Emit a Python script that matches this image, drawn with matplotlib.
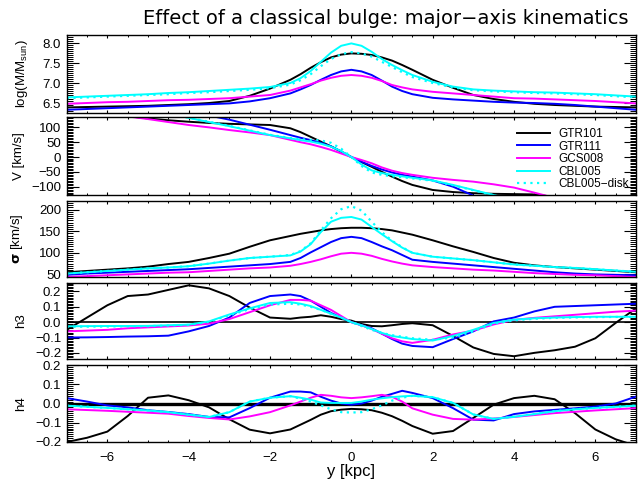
import numpy as np
import matplotlib
matplotlib.use('Agg')
import matplotlib.pyplot as plt
from matplotlib.ticker import MultipleLocator, FuncFormatter

plt.rcParams['font.family'] = ['Liberation Sans', 'DejaVu Sans']
plt.rcParams['mathtext.fontset'] = 'custom'
plt.rcParams['mathtext.rm'] = 'Liberation Sans'
plt.rcParams['mathtext.bf'] = 'DejaVu Sans:bold'
plt.rcParams['axes.linewidth'] = 1.0

# radius along the major axis [kpc]
y_kpc = [-7, -6.5, -6, -5.5, -5, -4.5, -4, -3.5, -3, -2.5, -2, -1.5,
         -1.25, -1, -0.75, -0.5, -0.25, 0, 0.25, 0.5, 0.75, 1, 1.25,
         1.5, 2, 2.5, 3, 3.5, 4, 4.5, 5, 5.5, 6, 6.5, 7]

models = ['GTR101', 'GTR111', 'GCS008', 'CBL005', 'CBL005\u2212disk']
colors = ['black', '#0000ff', '#ff00ff', '#00ffff', '#00ffff']
styles = ['-', '-', '-', '-', (0, (1, 2))]

# log surface mass
logm = [
    [6.39, 6.40, 6.41, 6.42, 6.43, 6.45, 6.47, 6.50, 6.55, 6.68, 6.86, 7.08,
     7.22, 7.38, 7.52, 7.64, 7.71, 7.74, 7.73, 7.70, 7.64, 7.56, 7.45,
     7.33, 7.08, 6.88, 6.70, 6.60, 6.53, 6.48, 6.45, 6.43, 6.41, 6.40, 6.39],
    [6.33, 6.35, 6.37, 6.39, 6.41, 6.43, 6.45, 6.47, 6.49, 6.54, 6.62, 6.74,
     6.84, 6.95, 7.08, 7.20, 7.29, 7.33, 7.29, 7.20, 7.06, 6.91, 6.80,
     6.72, 6.63, 6.59, 6.56, 6.53, 6.51, 6.50, 6.48, 6.45, 6.41, 6.37, 6.33],
    [6.48, 6.50, 6.52, 6.53, 6.55, 6.57, 6.58, 6.60, 6.62, 6.66, 6.70, 6.81,
     6.89, 6.97, 7.06, 7.13, 7.18, 7.20, 7.18, 7.13, 7.05, 6.95, 6.89,
     6.84, 6.78, 6.74, 6.70, 6.66, 6.62, 6.61, 6.59, 6.57, 6.55, 6.52, 6.49],
    [6.64, 6.66, 6.68, 6.70, 6.72, 6.75, 6.77, 6.80, 6.83, 6.86, 6.90, 7.00,
     7.12, 7.30, 7.53, 7.76, 7.93, 7.99, 7.93, 7.78, 7.60, 7.45, 7.32,
     7.20, 7.03, 6.91, 6.84, 6.81, 6.79, 6.77, 6.76, 6.74, 6.72, 6.69, 6.66],
    [6.62, 6.64, 6.66, 6.68, 6.70, 6.72, 6.75, 6.77, 6.80, 6.83, 6.87, 6.96,
     7.07, 7.22, 7.42, 7.60, 7.72, 7.77, 7.74, 7.66, 7.53, 7.40, 7.27,
     7.15, 7.00, 6.89, 6.82, 6.79, 6.77, 6.75, 6.74, 6.72, 6.70, 6.67, 6.64],
]

# line-of-sight velocity [km/s]
vel = [
    [160, 155, 148, 138, 130, 124, 119, 115, 112, 110, 108, 97,
     84, 68, 52, 36, 18, 0, -17, -33, -50, -66, -81,
     -94, -111, -118, -122, -124, -125, -126, -135, -150, -150, -150, -150],
    [200, 190, 180, 170, 160, 150, 145, 140, 126, 109, 92, 74,
     65, 57, 48, 36, 19, 0, -16, -30, -42, -52, -60,
     -66, -79, -100, -130, -150, -160, -170, -180, -190, -200, -200, -200],
    [165, 157, 149, 137, 128, 118, 108, 100, 91, 83, 74, 58,
     50, 43, 34, 24, 12, 0, -10, -21, -35, -46, -54,
     -60, -70, -77, -83, -92, -103, -120, -138, -150, -160, -170, -180],
    [200, 190, 180, 170, 160, 147, 132, 118, 104, 89, 74, 63,
     57, 52, 45, 35, 20, 0, -25, -45, -54, -60, -65,
     -70, -79, -94, -111, -128, -145, -160, -170, -180, -190, -200, -200],
    [200, 190, 180, 170, 160, 147, 133, 119, 105, 90, 75, 64,
     60, 58, 56, 48, 28, 0, -30, -52, -60, -65, -68,
     -72, -80, -95, -112, -129, -146, -160, -170, -180, -190, -200, -200],
]

# velocity dispersion [km/s]
sigma = [
    [55, 58, 61, 64, 68, 74, 79, 88, 98, 114, 129, 139,
     144, 148, 152, 155, 157, 158, 158, 157, 155, 152, 147,
     142, 129, 115, 102, 88, 77, 71, 67, 64, 61, 58, 55],
    [49, 52, 54, 56, 58, 60, 62, 65, 68, 71, 74, 79,
     88, 101, 113, 125, 134, 137, 134, 125, 115, 106, 95,
     84, 79, 75, 71, 67, 63, 59, 55, 52, 50, 49, 48],
    [44, 46, 48, 50, 52, 54, 55, 58, 61, 64, 66, 70,
     74, 79, 85, 92, 98, 100, 98, 93, 86, 80, 75,
     71, 67, 64, 61, 59, 56, 53, 51, 49, 48, 46, 44],
    [52, 55, 58, 61, 64, 66, 69, 75, 82, 88, 91, 94,
     103, 120, 148, 172, 181, 183, 177, 160, 143, 127, 112,
     100, 91, 87, 83, 78, 73, 70, 67, 65, 62, 59, 56],
    [52, 55, 58, 61, 64, 66, 69, 75, 82, 88, 91, 95,
     104, 122, 152, 180, 201, 208, 198, 172, 148, 128, 113,
     100, 91, 87, 83, 78, 73, 70, 67, 65, 62, 59, 56],
]

h3 = [
    [-0.05, 0.03, 0.11, 0.17, 0.18, 0.21, 0.24, 0.22, 0.17, 0.095, 0.03, 0.022,
     0.03, 0.035, 0.045, 0.035, 0.02, 0.01, -0.012, -0.025, -0.027, -0.02, -0.012,
     -0.007, -0.02, -0.09, -0.165, -0.207, -0.222, -0.20, -0.183, -0.16, -0.105, -0.005, 0.09],
    [-0.10, -0.099, -0.097, -0.094, -0.092, -0.088, -0.06, -0.025, 0.03, 0.125, 0.17, 0.18,
     0.17, 0.14, 0.10, 0.06, 0.03, 0.0, -0.02, -0.04, -0.075, -0.11, -0.14,
     -0.155, -0.163, -0.11, -0.06, 0.005, 0.03, 0.07, 0.10, 0.105, 0.11, 0.115, 0.12],
    [-0.06, -0.055, -0.05, -0.04, -0.034, -0.028, -0.022, -0.01, 0.02, 0.065, 0.11, 0.145,
     0.145, 0.14, 0.11, 0.08, 0.04, 0.0, -0.02, -0.045, -0.075, -0.105, -0.125,
     -0.135, -0.115, -0.08, -0.055, -0.015, 0.015, 0.028, 0.038, 0.048, 0.058, 0.068, 0.075],
    [-0.027, -0.026, -0.025, -0.025, -0.024, -0.02, -0.016, 0.005, 0.05, 0.09, 0.125, 0.13,
     0.12, 0.105, 0.08, 0.055, 0.03, 0.0, -0.02, -0.045, -0.07, -0.09, -0.10,
     -0.11, -0.12, -0.09, -0.05, -0.005, 0.016, 0.025, 0.03, 0.033, 0.035, 0.035, 0.035],
    [-0.03, -0.029, -0.028, -0.027, -0.026, -0.022, -0.018, 0.002, 0.045, 0.085, 0.115, 0.12,
     0.115, 0.10, 0.08, 0.055, 0.03, 0.0, -0.025, -0.05, -0.07, -0.085, -0.095,
     -0.105, -0.115, -0.10, -0.06, -0.01, 0.012, 0.022, 0.028, 0.031, 0.033, 0.034, 0.034],
]

h4 = [
    [-0.20, -0.178, -0.146, -0.065, 0.03, 0.042, 0.017, -0.02, -0.082, -0.136, -0.155, -0.135,
     -0.11, -0.085, -0.058, -0.04, -0.032, -0.028, -0.03, -0.035, -0.048, -0.066, -0.09,
     -0.117, -0.157, -0.143, -0.075, -0.006, 0.028, 0.04, 0.022, -0.05, -0.135, -0.186, -0.22],
    [0.028, 0.01, -0.01, -0.02, -0.035, -0.044, -0.055, -0.07, -0.072, -0.024, 0.03, 0.062,
     0.062, 0.058, 0.035, 0.015, 0.0, -0.006, 0.0, 0.015, 0.035, 0.05, 0.066,
     0.055, 0.028, -0.024, -0.084, -0.088, -0.055, -0.041, -0.033, -0.025, -0.016, 0.0, 0.036],
    [-0.03, -0.034, -0.038, -0.043, -0.048, -0.053, -0.065, -0.075, -0.083, -0.067, -0.045, -0.01,
     0.01, 0.03, 0.045, 0.04, 0.032, 0.028, 0.032, 0.038, 0.045, 0.035, 0.01,
     -0.025, -0.058, -0.08, -0.084, -0.078, -0.07, -0.06, -0.05, -0.043, -0.036, -0.03, -0.024],
    [-0.011, -0.017, -0.023, -0.03, -0.036, -0.045, -0.058, -0.07, -0.045, 0.01, 0.03, 0.038,
     0.03, 0.02, 0.005, 0.003, 0.003, 0.003, 0.01, 0.02, 0.027, 0.033, 0.037,
     0.04, 0.033, 0.003, -0.057, -0.08, -0.069, -0.055, -0.04, -0.03, -0.023, -0.017, -0.011],
    [-0.011, -0.017, -0.023, -0.03, -0.036, -0.045, -0.058, -0.07, -0.045, 0.01, 0.03, 0.038,
     0.025, 0.01, -0.01, -0.03, -0.045, -0.047, -0.045, -0.03, -0.01, 0.015, 0.03,
     0.04, 0.033, 0.003, -0.057, -0.08, -0.069, -0.055, -0.04, -0.03, -0.023, -0.017, -0.011],
]

W, H = 639, 487
fig = plt.figure(figsize=(W / 100, H / 100), dpi=100)

left, right = 66.7, 636
panels = [(35, 113), (117, 195), (201, 277), (283, 359), (365, 442)]
datasets = [logm, vel, sigma, h3, h4]
ylims = [(6.25, 8.2), (-128, 135), (44, 220), (-0.24, 0.255), (-0.2, 0.2)]
majors = [0.5, 50, 50, 0.1, 0.1]
minors = [0.05, 5, 5, 0.01, 0.01]
ylabels = ['log(M/M$_{\\rm sun}$)', 'V [km/s]', '$\\mathbf{\\sigma}$ [km/s]', 'h3', 'h4']
labx = [30, 25, 25, 27, 27]


def fmt1(v, pos):
    s = '%.1f' % v
    if s == '-0.0':
        s = '0.0'
    return s.replace('-', '\u2212')


axes = []
for i, (top, bot) in enumerate(panels):
    ax = fig.add_axes([left / W, 1 - bot / H, (right - left) / W, (bot - top) / H])
    for k in range(len(models)):
        ax.plot(y_kpc, datasets[i][k], color=colors[k], linestyle=styles[k],
                lw=1.4 if k < 4 else 1.6, label=models[k])
    if i == 3:
        ax.axhline(0, color='black', lw=1.2, zorder=1)
    if i == 4:
        ax.axhline(0, color='black', lw=2.4, zorder=1)
    ax.set_xlim(-7, 7)
    ax.set_ylim(*ylims[i])
    ax.yaxis.set_major_locator(MultipleLocator(majors[i]))
    ax.yaxis.set_minor_locator(MultipleLocator(minors[i]))
    ax.xaxis.set_major_locator(MultipleLocator(2))
    ax.xaxis.set_minor_locator(MultipleLocator(0.5))
    if i in (0, 3, 4):
        ax.yaxis.set_major_formatter(FuncFormatter(fmt1))
    ax.tick_params(axis='y', which='major', direction='in', length=8.5, width=0.8,
                   left=True, right=True, labelsize=9.5, pad=4)
    ax.tick_params(axis='y', which='minor', direction='in', length=4, width=0.7,
                   left=True, right=True)
    ax.tick_params(axis='x', which='major', direction='in', length=2.5, width=0.8,
                   top=True, bottom=True, labelsize=9.5, pad=7,
                   labelbottom=(i == 4))
    ax.tick_params(axis='x', which='minor', direction='in', length=1.5, width=0.7,
                   top=True, bottom=True)
    ax.set_ylabel(ylabels[i], fontsize=9.5)
    ax.yaxis.set_label_coords((labx[i] - left) / (right - left), 0.5)
    axes.append(ax)

axes[4].set_xlabel('y [kpc]', fontsize=12, labelpad=0)
axes[1].legend(loc='upper left', bbox_to_anchor=(0.791, 0.86), frameon=False,
               fontsize=8.5, handlelength=2.8, handletextpad=0.7,
               labelspacing=0.05, borderpad=0, borderaxespad=0)

fig.text(0.603, 0.963, 'Effect of a classical bulge: major\u2212axis kinematics',
         ha='center', va='center', fontsize=14, family='DejaVu Sans')

fig.savefig('out.png', dpi=100)
